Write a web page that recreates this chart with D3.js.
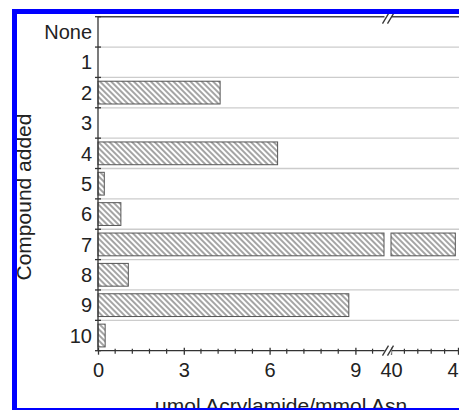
<!DOCTYPE html>
<html><head><meta charset="utf-8">
<script src="https://cdn.jsdelivr.net/npm/d3@7"></script>
<style>html,body{margin:0;padding:0;background:#fff;overflow:hidden}svg{display:block}</style>
</head><body>
<script>
const categories = ["None","1","2","3","4","5","6","7","8","9","10"];
const values = [0, 0, 4.27, 0, 6.28, 0.22, 0.8, 44.8, 1.06, 8.77, 0.25];
const majorTicksLow = [0, 3, 6, 9];
const majorTicksHigh = [40, 45];
const breakLow = 10, breakHigh = 40;

(function(){
const W = 459, H = 410;
const svg = d3.select("body").append("svg").attr("width", W).attr("height", H);
const font = "'Liberation Sans', Arial, sans-serif";

const defs = svg.append("defs");
const pat = defs.append("pattern").attr("id","hatch").attr("patternUnits","userSpaceOnUse")
  .attr("width",4).attr("height",4).attr("patternTransform","rotate(-45)");
pat.append("rect").attr("width",4).attr("height",4).attr("fill","#fff");
pat.append("line").attr("x1",1).attr("y1",0).attr("x2",1).attr("y2",4).attr("stroke","#4a4a4a").attr("stroke-width",1);

const pTop = 16.7, pBottom = 350.7, pLeft = 98;
const y = d3.scaleBand().domain(categories).range([pTop, pBottom]).paddingInner(0.25).paddingOuter(0.125);
const x1 = d3.scaleLinear().domain([0, breakLow]).range([pLeft, 384]);
const x2 = d3.scaleLinear().domain([breakHigh, 45]).range([391, 458]);

// gridlines at row boundaries
const bounds = categories.map(c => y(c) - y.step()*0.125).concat([pBottom]);
svg.append("g").selectAll("line").data(bounds.slice(1, -1)).join("line")
  .attr("x1", pLeft).attr("x2", W).attr("y1", d=>d).attr("y2", d=>d)
  .attr("stroke","#cccccc").attr("stroke-width",1.3);

// bars
const bars = svg.append("g");
categories.forEach((c,i) => {
  const v = values[i];
  if (v <= 0) return;
  const h = y.bandwidth();
  if (v <= breakLow) {
    bars.append("rect").attr("x", x1(0)).attr("y", y(c)).attr("width", x1(v)-x1(0)).attr("height", h)
      .attr("fill","url(#hatch)").attr("stroke","#555").attr("stroke-width",1);
  } else {
    bars.append("rect").attr("x", x1(0)).attr("y", y(c)).attr("width", x1(breakLow)-x1(0)).attr("height", h)
      .attr("fill","url(#hatch)").attr("stroke","#555").attr("stroke-width",1);
    bars.append("rect").attr("x", x2(breakHigh)).attr("y", y(c)).attr("width", x2(v)-x2(breakHigh)).attr("height", h)
      .attr("fill","url(#hatch)").attr("stroke","#555").attr("stroke-width",1);
  }
});

// top border
svg.append("line").attr("x1",pLeft).attr("x2",W).attr("y1",pTop).attr("y2",pTop).attr("stroke","#444").attr("stroke-width",1.5);

// left axis
svg.append("line").attr("x1",pLeft).attr("x2",pLeft).attr("y1",pTop).attr("y2",pBottom).attr("stroke","#333").attr("stroke-width",1.3);
svg.append("g").selectAll("line").data(bounds).join("line")
  .attr("x1", pLeft-3).attr("x2", pLeft+3).attr("y1", d=>d).attr("y2", d=>d).attr("stroke","#333").attr("stroke-width",1.3);
const yAxis = svg.append("g").attr("transform",`translate(${pLeft-6},0)`)
  .call(d3.axisLeft(y).tickSize(0).tickPadding(0));
yAxis.select(".domain").remove();
yAxis.selectAll("text").attr("font-family",font).attr("font-size",20).attr("fill","#222").attr("dy","0.36em");

// bottom axis segments
const axLow = svg.append("g").attr("transform",`translate(0,${pBottom})`)
  .call(d3.axisBottom(x1).tickValues(majorTicksLow).tickSize(4).tickPadding(6).tickFormat(d3.format("d")));
const axHigh = svg.append("g").attr("transform",`translate(0,${pBottom})`)
  .call(d3.axisBottom(x2).tickValues(majorTicksHigh).tickSize(4).tickPadding(6).tickFormat(d3.format("d")));
[axLow, axHigh].forEach(a => {
  a.select(".domain").remove();
  a.selectAll(".tick line").attr("y1",-3).attr("stroke","#333").attr("stroke-width",1.3);
  a.selectAll("text").attr("font-family",font).attr("font-size",20).attr("fill","#222").attr("dy","0.8em");
});
const minorLow = d3.range(0, 9.7, 0.6).filter(v => !majorTicksLow.some(m => Math.abs(m-v)<1e-6));
const minorHigh = d3.range(41, 45, 1);
svg.append("g").selectAll("line").data(minorLow.map(x1).concat(minorHigh.map(x2))).join("line")
  .attr("x1",d=>d).attr("x2",d=>d).attr("y1",pBottom-2).attr("y2",pBottom+3).attr("stroke","#333").attr("stroke-width",1.2);
svg.append("line").attr("x1",pLeft).attr("x2",W).attr("y1",pBottom).attr("y2",pBottom).attr("stroke","#333").attr("stroke-width",1.3);

// break marks
const bx = (x1(breakLow) + x2(breakHigh))/2 + 1;
[pTop+2, pBottom].forEach(by => {
  svg.append("rect").attr("x",bx-4).attr("y",by-3).attr("width",7).attr("height",6).attr("fill","#fff");
  [-3, 2].forEach(off => {
    svg.append("line").attr("x1",bx+off-3).attr("y1",by+5).attr("x2",bx+off+3).attr("y2",by-5)
      .attr("stroke","#333").attr("stroke-width",1.3);
  });
});

// axis titles
svg.append("text").attr("transform","translate(31,197) rotate(-90)").attr("text-anchor","middle")
  .attr("font-family",font).attr("font-size",21).attr("fill","#222").text("Compound added");
svg.append("text").attr("x",281).attr("y",413).attr("text-anchor","middle")
  .attr("font-family",font).attr("font-size",21).attr("fill","#222").text("μmol Acrylamide/mmol Asn");

// blue frame
svg.append("rect").attr("x",12).attr("y",9).attr("width",W-12).attr("height",5).attr("fill","#0000ff");
svg.append("rect").attr("x",12).attr("y",9).attr("width",5).attr("height",H-9).attr("fill","#0000ff");
svg.append("rect").attr("x",12).attr("y",408).attr("width",W-12).attr("height",3).attr("fill","#0000ff");
})();
</script>
</body></html>
